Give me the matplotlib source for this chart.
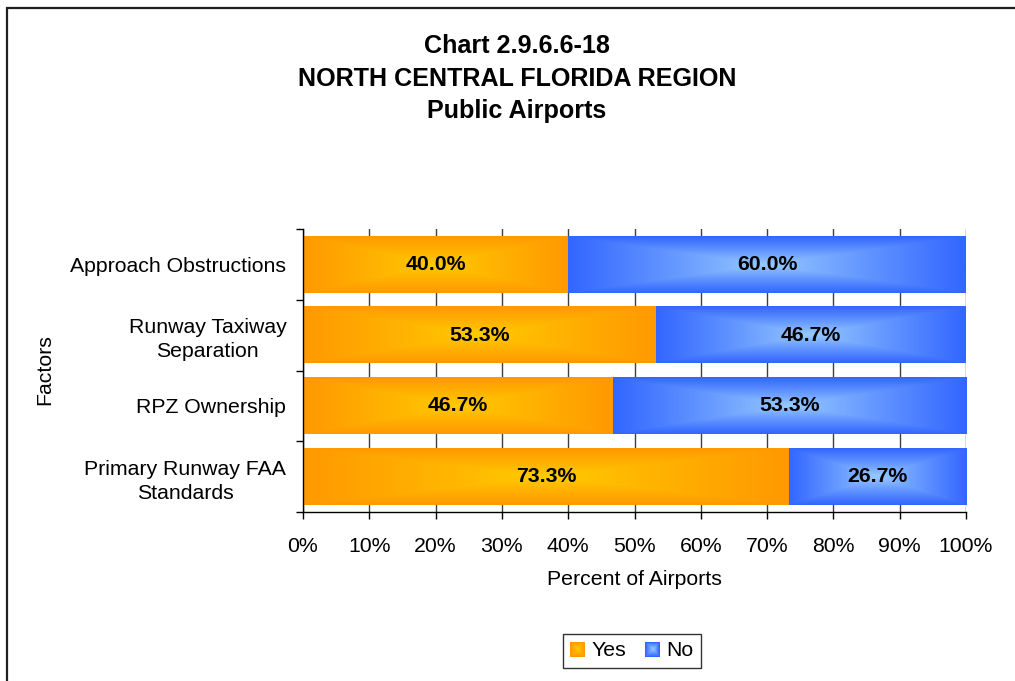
import numpy as np
import matplotlib
matplotlib.use("Agg")
import matplotlib.pyplot as plt
from matplotlib.patches import Rectangle, Patch
from matplotlib.legend_handler import HandlerBase
from matplotlib.ticker import PercentFormatter

# Data
categories = ["Approach Obstructions", "Runway Taxiway\nSeparation",
              "RPZ Ownership", "Primary Runway FAA\nStandards"]
yes_pct = [40.0, 53.3, 46.7, 73.3]
no_pct = [60.0, 46.7, 53.3, 26.7]
series_names = ["Yes", "No"]
title_lines = ["Chart 2.9.6.6-18", "NORTH CENTRAL FLORIDA REGION", "Public Airports"]

plt.rcParams["font.family"] = ["Liberation Sans", "DejaVu Sans"]

W, H = 1015, 681
fig = plt.figure(figsize=(W / 100, H / 100), dpi=100)
fig.patch.set_facecolor("white")

ax = fig.add_axes([303 / W, 1 - 512 / H, (966 - 303) / W, (512 - 229) / H])

# gradient colours (edge, centre) for each series
grad = {
    "Yes": (np.array([255, 153, 0]) / 255, np.array([255, 204, 0]) / 255),
    "No": (np.array([51, 102, 255]) / 255, np.array([153, 204, 255]) / 255),
}

ypos = np.arange(len(categories))
bar_h = 0.8
bars_yes = ax.barh(ypos, yes_pct, height=bar_h, color="none", zorder=3)
bars_no = ax.barh(ypos, no_pct, left=yes_pct, height=bar_h, color="none", zorder=3)


def rect_gradient(edge, centre, nx=300, ny=60):
    u = np.abs(np.linspace(-1, 1, nx))[None, :]
    v = np.abs(np.linspace(-1, 1, ny))[:, None]
    t = np.clip(np.maximum(u, v), 0, 1) ** 0.9
    return centre[None, None, :] * (1 - t[..., None]) + edge[None, None, :] * t[..., None]


for name, bars in (("Yes", bars_yes), ("No", bars_no)):
    edge, centre = grad[name]
    for p in bars:
        x0, y0 = p.get_x(), p.get_y()
        w, h = p.get_width(), p.get_height()
        ax.imshow(rect_gradient(edge, centre), extent=(x0, x0 + w, y0 + h, y0),
                  aspect="auto", interpolation="bilinear", zorder=2.5)
        ax.text(x0 + w / 2, y0 + h / 2, f"{w:.1f}%", ha="center", va="center",
                fontsize=15.3, fontweight="bold", color="black", zorder=4)

ax.set_xlim(0, 100)
ax.set_ylim(len(categories) - 0.5, -0.5)
ax.set_aspect("auto")

ax.set_xticks(np.arange(0, 101, 10))
ax.xaxis.set_major_formatter(PercentFormatter(decimals=0))
ax.set_yticks(ypos)
ax.set_yticklabels(categories, multialignment="center", linespacing=1.35)
ax.set_yticks(np.arange(-0.5, len(categories), 1), minor=True)

ax.tick_params(axis="x", which="major", direction="out", length=5, width=1,
               labelsize=15.3, pad=13, color="black")
ax.tick_params(axis="y", which="major", length=0, labelsize=15.3, pad=12)
ax.tick_params(axis="y", which="minor", direction="out", length=5, width=1, color="black")

ax.grid(axis="x", color="#404040", linewidth=1, zorder=1)
ax.set_axisbelow(True)
for s in ("top", "right"):
    ax.spines[s].set_visible(False)
ax.spines["left"].set_linewidth(1)
ax.spines["bottom"].set_linewidth(1)

ax.set_xlabel("Percent of Airports", fontsize=15.3, labelpad=10)
fig.text(45 / W, 1 - 370 / H, "Factors", rotation=90, ha="center", va="center", fontsize=15.3)

# title
for i, line in enumerate(title_lines):
    fig.text(517 / W, 1 - (46 + 32.5 * i) / H, line, ha="center", va="center",
             fontsize=18.1, fontweight="bold")


class GradientBoxHandler(HandlerBase):
    """Legend key drawn as nested squares shading from edge colour to centre colour."""

    def __init__(self, edge, centre, steps=8):
        super().__init__()
        self.edge, self.centre, self.steps = edge, centre, steps

    def create_artists(self, legend, orig_handle, xdescent, ydescent, width, height,
                       fontsize, trans):
        side = min(width, height)
        cx = -xdescent + width / 2
        cy = -ydescent + height / 2
        artists = []
        for k in range(self.steps):
            f = 1 - k / self.steps
            col = self.centre * (1 - f) + self.edge * f
            s = side * f
            artists.append(Rectangle((cx - s / 2, cy - s / 2), s, s, facecolor=col,
                                     edgecolor="none", transform=trans))
        return artists


# legend
handles = [Patch(label=n) for n in series_names]
handler_map = {h: GradientBoxHandler(*grad[h.get_label()]) for h in handles}
leg = fig.legend(handles=handles, handler_map=handler_map, loc="center",
                 bbox_to_anchor=(632 / W, 1 - 651 / H),
                 ncol=2, fontsize=15.3, frameon=True, fancybox=False,
                 handlelength=0.7, handleheight=0.7, handletextpad=0.3,
                 columnspacing=0.9, borderpad=0.35, borderaxespad=0)
leg.get_frame().set_edgecolor("black")
leg.get_frame().set_linewidth(1)

# outer chart frame
fig.add_artist(Rectangle((6.5 / W, -0.05), 1.2, 1 - 8 / H + 0.05, transform=fig.transFigure,
                         fill=False, edgecolor="#202020", linewidth=1.6))

fig.savefig("out.png", dpi=100, facecolor="white")
